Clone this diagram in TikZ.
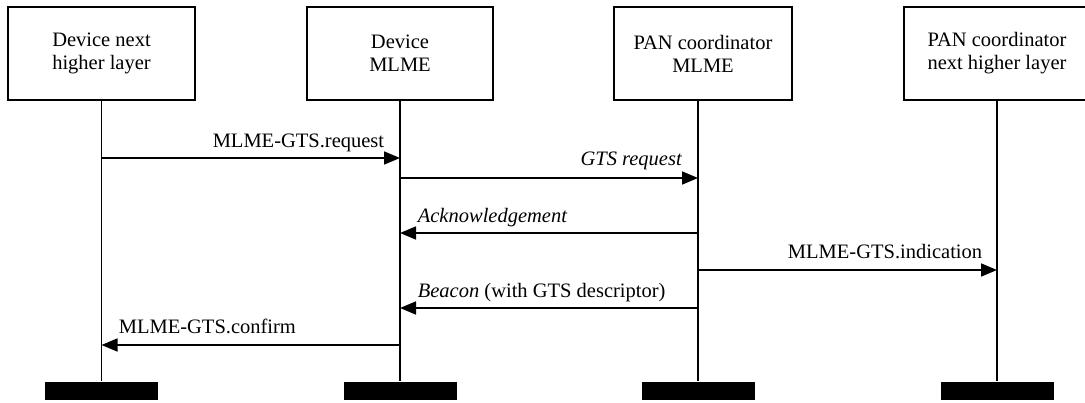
\documentclass[tikz,border=0pt]{standalone}
\usepackage{fontspec}
\setmainfont{Liberation Serif}
\usetikzlibrary{arrows.meta}
\begin{document}
\begin{tikzpicture}[x=1pt,y=-1pt,line width=1.7pt,
  entity/.style={draw,line width=1.7pt,minimum height=93pt,align=center,
    font=\fontsize{20.5}{23}\selectfont,inner sep=0pt},
  endbar/.style={fill=black,draw=none,minimum width=113pt,minimum height=18pt,inner sep=0pt},
  msg/.style={-{Triangle[length=16pt,width=13pt]},line width=1.7pt},
  lbl/.style={font=\fontsize{20.5}{23}\selectfont,inner sep=0pt}]
\useasboundingbox (0,0) rectangle (1085,402);
% entities
\node[entity,minimum width=187pt] (e1) at (101.5,53.5) {Device next\\higher layer};
\node[entity,minimum width=186pt] (e2) at (400,53.5) {Device\\MLME};
\node[entity,minimum width=178pt] (e3) at (703,53.5) {PAN coordinator\\MLME};
\node[entity,minimum width=186pt] (e4) at (997,53.5) {PAN coordinator\\next higher layer};
% end bars
\node[endbar] (b1) at (101.5,391) {};
\node[endbar] (b2) at (400,391) {};
\node[endbar] (b3) at (698,391) {};
\node[endbar] (b4) at (997,391) {};
% lifelines
\coordinate (t1) at (101.5,100); \coordinate (t2) at (400,100);
\coordinate (t3) at (698,100);   \coordinate (t4) at (997,100);
\draw (t1) -- (b1.north);
\draw (t2) -- (b2.north);
\draw (t3) -- (b3.north);
\draw (t4) -- (b4.north);
% message points
\coordinate (m1a) at (101.5,158); \coordinate (m1b) at (400,158);
\coordinate (m2a) at (400,178);   \coordinate (m2b) at (698,178);
\coordinate (m3a) at (698,233);   \coordinate (m3b) at (400,233);
\coordinate (m4a) at (698,270);   \coordinate (m4b) at (997,270);
\coordinate (m5a) at (698,308);   \coordinate (m5b) at (400,308);
\coordinate (m6a) at (400,345);   \coordinate (m6b) at (101.5,345);
\draw[msg] (m1a) -- (m1b);
\draw[msg] (m2a) -- (m2b);
\draw[msg] (m3a) -- (m3b);
\draw[msg] (m4a) -- (m4b);
\draw[msg] (m5a) -- (m5b);
\draw[msg] (m6a) -- (m6b);
% labels
\node[lbl,anchor=base east] (l1) at (385,147) {MLME-GTS.request};
\node[lbl,anchor=base east] (l2) at (683,165) {\textit{GTS request}};
\node[lbl,anchor=base west] (l3) at (417,222) {\textit{Acknowledgement}};
\node[lbl,anchor=base east] (l4) at (983,258) {MLME-GTS.indication};
\node[lbl,anchor=base west] (l5) at (417,297) {\textit{Beacon} (with GTS descriptor)};
\node[lbl,anchor=base west] (l6) at (118,333) {MLME-GTS.confirm};
\end{tikzpicture}
\end{document}
